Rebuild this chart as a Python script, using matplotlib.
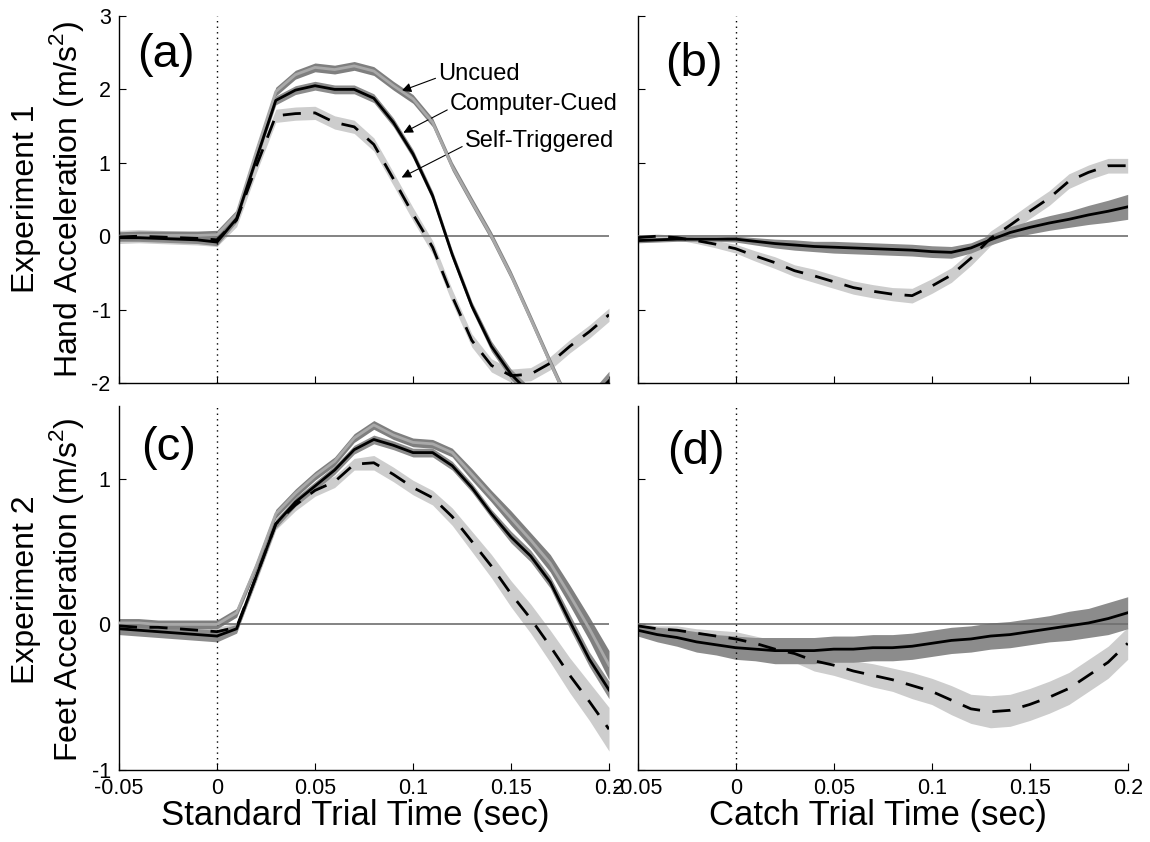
import matplotlib
matplotlib.use("Agg")
import matplotlib.pyplot as plt
import numpy as np

plt.rcParams['font.family'] = ['Liberation Sans', 'DejaVu Sans']
plt.rcParams['mathtext.fontset'] = 'custom'
plt.rcParams['mathtext.rm'] = 'Liberation Sans'

# time base (sec)
t = [-0.05, -0.04, -0.03, -0.02, -0.01, 0.0, 0.01, 0.02, 0.03, 0.04, 0.05, 0.06, 0.07,
     0.08, 0.09, 0.10, 0.11, 0.12, 0.13, 0.14, 0.15, 0.16, 0.17, 0.18, 0.19, 0.20]

# (a) Experiment 1, standard trials (hand acceleration)
a_uncued = [0.0, 0.01, 0.01, 0.01, 0.01, 0.02, 0.30, 1.15, 1.97, 2.20, 2.30, 2.27, 2.32,
            2.25, 2.05, 1.87, 1.55, 0.95, 0.47, 0.0, -0.53, -1.12, -1.72, -2.30, -2.60, -2.70]
a_cued = [-0.02, -0.02, -0.03, -0.04, -0.05, -0.08, 0.24, 1.05, 1.85, 1.99, 2.05, 2.00, 2.00,
          1.88, 1.55, 1.12, 0.55, -0.25, -0.95, -1.50, -1.88, -2.15, -2.35, -2.40, -2.25, -1.97]
a_self = [-0.01, 0.0, -0.01, -0.02, -0.03, -0.05, 0.22, 0.95, 1.64, 1.67, 1.68, 1.55, 1.49,
          1.25, 0.78, 0.30, -0.15, -0.82, -1.42, -1.76, -1.90, -1.88, -1.73, -1.50, -1.30, -1.07]
a_uncued_se = 0.06
a_cued_se = [0.05, 0.05, 0.05, 0.05, 0.05, 0.05, 0.05, 0.05, 0.06, 0.06, 0.06, 0.06, 0.06,
             0.06, 0.06, 0.06, 0.06, 0.06, 0.06, 0.07, 0.07, 0.08, 0.08, 0.09, 0.10, 0.13]
a_self_se = 0.09

# (b) Experiment 1, catch trials
b_cued = [-0.06, -0.05, -0.04, -0.04, -0.04, -0.04, -0.07, -0.10, -0.12, -0.14, -0.15, -0.16, -0.17,
          -0.18, -0.19, -0.21, -0.22, -0.16, -0.05, 0.05, 0.12, 0.18, 0.23, 0.29, 0.34, 0.40]
b_cued_se = [0.03, 0.03, 0.03, 0.03, 0.03, 0.04, 0.05, 0.06, 0.07, 0.07, 0.08, 0.08, 0.08,
             0.08, 0.08, 0.08, 0.08, 0.07, 0.07, 0.08, 0.09, 0.10, 0.11, 0.13, 0.15, 0.17]
b_self = [-0.02, 0.0, -0.02, -0.06, -0.11, -0.17, -0.27, -0.36, -0.47, -0.54, -0.62, -0.70, -0.75,
          -0.79, -0.81, -0.68, -0.53, -0.30, -0.03, 0.15, 0.34, 0.52, 0.75, 0.87, 0.96, 0.96]
b_self_se = [0.03, 0.03, 0.03, 0.04, 0.05, 0.06, 0.07, 0.08, 0.08, 0.09, 0.09, 0.09, 0.09,
             0.09, 0.10, 0.10, 0.10, 0.10, 0.10, 0.10, 0.10, 0.10, 0.10, 0.10, 0.10, 0.10]

# (c) Experiment 2, standard trials (feet acceleration)
c_uncued = [0.01, 0.01, 0.0, 0.0, 0.0, 0.0, 0.08, 0.40, 0.76, 0.90, 1.02, 1.12, 1.28,
            1.37, 1.30, 1.25, 1.24, 1.18, 1.03, 0.88, 0.73, 0.58, 0.42, 0.20, -0.03, -0.28]
c_cued = [-0.03, -0.04, -0.05, -0.06, -0.07, -0.08, -0.03, 0.33, 0.69, 0.84, 0.95, 1.06, 1.20,
          1.27, 1.23, 1.18, 1.18, 1.09, 0.94, 0.76, 0.60, 0.47, 0.29, 0.02, -0.24, -0.45]
c_self = [-0.01, -0.02, -0.02, -0.03, -0.04, -0.05, -0.02, 0.33, 0.69, 0.82, 0.92, 0.98, 1.10,
          1.11, 1.03, 0.94, 0.87, 0.74, 0.57, 0.40, 0.21, 0.04, -0.15, -0.35, -0.53, -0.72]
c_uncued_se = [0.03, 0.03, 0.03, 0.03, 0.03, 0.03, 0.03, 0.03, 0.03, 0.03, 0.03, 0.03, 0.03,
               0.03, 0.03, 0.03, 0.03, 0.03, 0.04, 0.04, 0.05, 0.05, 0.06, 0.07, 0.08, 0.10]
c_cued_se = [0.04, 0.04, 0.04, 0.04, 0.04, 0.04, 0.03, 0.03, 0.03, 0.03, 0.03, 0.03, 0.03,
             0.03, 0.03, 0.03, 0.03, 0.03, 0.03, 0.03, 0.04, 0.04, 0.04, 0.05, 0.05, 0.06]
c_self_se = [0.03, 0.03, 0.03, 0.03, 0.03, 0.03, 0.03, 0.04, 0.04, 0.04, 0.04, 0.04, 0.04,
             0.05, 0.05, 0.05, 0.05, 0.06, 0.07, 0.08, 0.09, 0.10, 0.11, 0.12, 0.13, 0.15]

# (d) Experiment 2, catch trials
d_cued = [-0.04, -0.07, -0.09, -0.12, -0.14, -0.16, -0.17, -0.18, -0.18, -0.18, -0.17, -0.17, -0.16,
          -0.16, -0.15, -0.13, -0.11, -0.10, -0.08, -0.07, -0.05, -0.03, -0.01, 0.01, 0.04, 0.08]
d_cued_se = [0.04, 0.05, 0.06, 0.07, 0.07, 0.08, 0.08, 0.09, 0.09, 0.09, 0.09, 0.09, 0.09,
             0.09, 0.09, 0.09, 0.09, 0.09, 0.09, 0.09, 0.09, 0.09, 0.10, 0.10, 0.11, 0.11]
d_self = [-0.01, -0.03, -0.04, -0.06, -0.08, -0.10, -0.13, -0.17, -0.20, -0.25, -0.28, -0.32, -0.35,
          -0.38, -0.42, -0.46, -0.52, -0.58, -0.60, -0.59, -0.55, -0.50, -0.44, -0.35, -0.26, -0.13]
d_self_se = [0.02, 0.02, 0.03, 0.03, 0.04, 0.05, 0.05, 0.06, 0.06, 0.07, 0.07, 0.07, 0.08,
             0.08, 0.09, 0.09, 0.10, 0.10, 0.11, 0.11, 0.11, 0.11, 0.11, 0.11, 0.11, 0.11]

xticks = [-0.05, 0, 0.05, 0.1, 0.15, 0.2]
xticklabels = ['-0.05', '0', '0.05', '0.1', '0.15', '0.2']

UNCUED_BAND, UNCUED_LINE = '#7f7f7f', '#a9a9a9'
CUED_BAND = '#8c8c8c'
SELF_BAND = '#cdcdcd'

fig = plt.figure(figsize=(11.5, 8.42), dpi=100)
W, H = 1150, 842


def make_axes(x0, y0, x1, y1):
    return fig.add_axes([x0 / W, 1 - y1 / H, (x1 - x0) / W, (y1 - y0) / H])


ax_a = make_axes(119, 16, 609, 383)
ax_b = make_axes(637.7, 16, 1127.7, 383)
ax_c = make_axes(119, 406, 609, 770)
ax_d = make_axes(637.7, 406, 1127.7, 770)


def band(ax, y, se, color):
    y = np.asarray(y)
    se = np.asarray(se)
    ax.fill_between(t, y - se, y + se, color=color, lw=0, zorder=2)


def setup(ax, ylim, yticks, show_ylabels, show_xlabels):
    ax.set_xlim(-0.05, 0.2)
    ax.set_ylim(*ylim)
    ax.axhline(0, color='#6e6e6e', lw=1.2, zorder=3)
    ax.axvline(0, color='k', lw=1.0, ls=(0, (1, 3)), zorder=3)
    ax.spines['top'].set_visible(False)
    ax.spines['right'].set_visible(False)
    ax.spines['left'].set_linewidth(1.0)
    ax.spines['bottom'].set_linewidth(1.0)
    ax.set_xticks(xticks)
    ax.set_yticks(yticks)
    ax.tick_params(direction='in', length=5, width=0.8, labelsize=15.5, pad=6)
    if show_xlabels:
        ax.set_xticklabels(xticklabels)
    else:
        ax.set_xticklabels([])
    if show_ylabels:
        ax.set_yticklabels([str(v) for v in yticks])
    else:
        ax.set_yticklabels([])


dash = (0, (6.5, 4.5))

# (a)
band(ax_a, a_self, a_self_se, SELF_BAND)
band(ax_a, a_cued, a_cued_se, CUED_BAND)
band(ax_a, a_uncued, a_uncued_se, UNCUED_BAND)
ax_a.plot(t, a_uncued, color=UNCUED_LINE, lw=2.0, zorder=4)
ax_a.plot(t, a_cued, color='k', lw=2.0, zorder=5)
ax_a.plot(t, a_self, color='k', lw=2.0, ls=dash, zorder=5)
setup(ax_a, (-2, 3), [-2, -1, 0, 1, 2, 3], True, False)

arrow = dict(arrowstyle='-|>', color='k', lw=0.8, mutation_scale=14, shrinkA=0, shrinkB=0)
ax_a.annotate('Uncued', xy=(0.0942, 1.98), xytext=(0.1129, 2.21), fontsize=17,
              ha='left', va='center', arrowprops=dict(arrow, relpos=(0, 0.35)))
ax_a.annotate('Computer-Cued', xy=(0.0951, 1.41), xytext=(0.1189, 1.80), fontsize=17,
              ha='left', va='center', arrowprops=dict(arrow, relpos=(0, 0.3)))
ax_a.annotate('Self-Triggered', xy=(0.0942, 0.80), xytext=(0.1265, 1.30), fontsize=17,
              ha='left', va='center', arrowprops=dict(arrow, relpos=(0, 0.3)))

# (b)
band(ax_b, b_self, b_self_se, SELF_BAND)
band(ax_b, b_cued, b_cued_se, CUED_BAND)
ax_b.plot(t, b_cued, color='k', lw=2.0, zorder=5)
ax_b.plot(t, b_self, color='k', lw=2.0, ls=dash, zorder=5)
setup(ax_b, (-2, 3), [-2, -1, 0, 1, 2, 3], False, False)

# (c)
band(ax_c, c_self, c_self_se, SELF_BAND)
band(ax_c, c_cued, c_cued_se, CUED_BAND)
band(ax_c, c_uncued, c_uncued_se, UNCUED_BAND)
ax_c.plot(t, c_uncued, color=UNCUED_LINE, lw=2.0, zorder=4)
ax_c.plot(t, c_cued, color='k', lw=2.0, zorder=5)
ax_c.plot(t, c_self, color='k', lw=2.0, ls=dash, zorder=5)
setup(ax_c, (-1, 1.5), [-1, 0, 1], True, True)

# (d)
band(ax_d, d_self, d_self_se, SELF_BAND)
band(ax_d, d_cued, d_cued_se, CUED_BAND)
ax_d.plot(t, d_cued, color='k', lw=2.0, zorder=5)
ax_d.plot(t, d_self, color='k', lw=2.0, ls=dash, zorder=5)
setup(ax_d, (-1, 1.5), [-1, 0, 1], False, True)

# panel letters
for ax, lab, x, y in [(ax_a, '(a)', 0.095, 0.894), (ax_b, '(b)', 0.115, 0.87),
                      (ax_c, '(c)', 0.102, 0.885), (ax_d, '(d)', 0.118, 0.874)]:
    ax.text(x, y, lab, transform=ax.transAxes, fontsize=34, ha='center', va='center', zorder=6)

# axis titles
fig.text(48.5 / W, 1 - 199 / H, 'Experiment 1\nHand Acceleration (m/s$^2$)', rotation=90,
         ha='center', va='center', multialignment='center', fontsize=23, linespacing=1.2)
fig.text(48.5 / W, 1 - 590 / H, 'Experiment 2\nFeet Acceleration (m/s$^2$)', rotation=90,
         ha='center', va='center', multialignment='center', fontsize=23, linespacing=1.2)
fig.text(355 / W, 1 - 815 / H, 'Standard Trial Time (sec)', ha='center', va='center', fontsize=25)
fig.text(878 / W, 1 - 815 / H, 'Catch Trial Time (sec)', ha='center', va='center', fontsize=25)

fig.savefig('out.png', dpi=100)
